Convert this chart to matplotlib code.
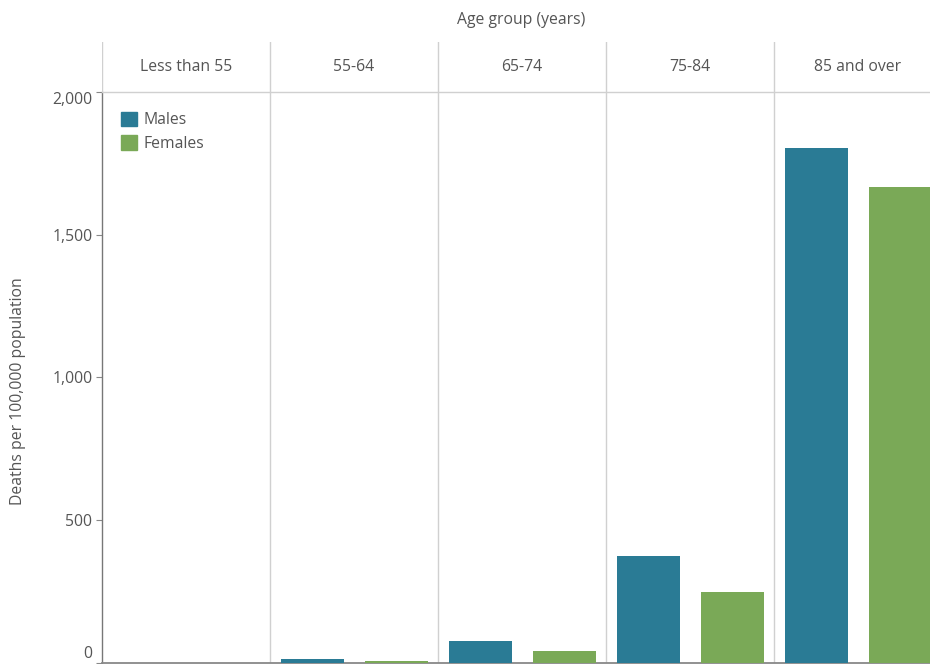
import matplotlib
matplotlib.use("Agg")
import matplotlib.pyplot as plt
from matplotlib.patches import Rectangle
from matplotlib.lines import Line2D
from matplotlib import transforms

plt.rcParams['font.family'] = ['Open Sans', 'DejaVu Sans']

age_groups = ["Less than 55", "55-64", "65-74", "75-84", "85 and over"]
males = [0, 14, 77, 372, 1804]
females = [0, 5, 39, 246, 1667]
yticks = [0, 500, 1000, 1500, 2000]
ytick_labels = ["0", "500", "1,000", "1,500", "2,000"]

male_color = "#2a7b95"
female_color = "#7aa957"
text_color = "#555555"
grid_color = "#d0d0d0"
fs = 11.3

W, H = 930, 664
fig = plt.figure(figsize=(W / 100, H / 100), dpi=100)

left, right = 102, 942
top, bottom = 92, 662.5
ax = fig.add_axes([left / W, 1 - bottom / H, (right - left) / W, (bottom - top) / H])

n = len(age_groups)
for i in range(n):
    ax.bar(2 * i + 0.5, males[i], width=0.75, color=male_color, zorder=3)
    ax.bar(2 * i + 1.5, females[i], width=0.75, color=female_color, zorder=3)

ax.set_xlim(0, 2 * n)
ax.set_ylim(0, 2000)
ax.set_xticks([])
ax.set_yticks(yticks)
ax.set_yticklabels(ytick_labels, color=text_color, fontsize=fs)
ax.tick_params(axis='y', length=4, width=0.8, color="#888888", pad=3)
labels = ax.get_yticklabels()
labels[0].set_verticalalignment('bottom')
labels[-1].set_verticalalignment('top')

for s in ['top', 'right']:
    ax.spines[s].set_visible(False)
ax.spines['left'].set_color("#777777")
ax.spines['left'].set_linewidth(1.0)
ax.spines['bottom'].set_color("#888888")
ax.spines['bottom'].set_linewidth(1.3)

for i in range(1, n):
    ax.axvline(2 * i, color=grid_color, lw=1.0, zorder=1)

# header area
hax = fig.add_axes([left / W, 1 - top / H, (right - left) / W, (top - 42) / H])
hax.set_xlim(0, 2 * n)
hax.set_ylim(0, 1)
hax.axis('off')
for i in range(n + 1):
    hax.axvline(2 * i, color=grid_color, lw=1.0)
for i, g in enumerate(age_groups):
    hax.text(2 * i + 1, 0.5, g, ha='center', va='center', fontsize=fs, color=text_color)

fig.add_artist(Line2D([left / W, 1], [1 - top / H, 1 - top / H], color=grid_color, lw=1.0,
                      transform=fig.transFigure))

fig.text(521 / W, 1 - 20 / H, "Age group (years)", ha='center', va='center',
         fontsize=fs, color=text_color)
fig.text(18 / W, 1 - 391 / H, "Deaths per 100,000 population", ha='center', va='center',
         rotation=90, fontsize=fs, color=text_color)

handles = [Rectangle((0, 0), 1, 1, color=male_color), Rectangle((0, 0), 1, 1, color=female_color)]
leg = ax.legend(handles, ["Males", "Females"], loc='upper left',
                bbox_to_anchor=((121 - left) / (right - left), 1 - (112 - top) / (bottom - top)),
                frameon=False, fontsize=fs, handlelength=1.0, handleheight=1.0,
                handletextpad=0.45, labelspacing=0.45, borderaxespad=0, borderpad=0)
for t in leg.get_texts():
    t.set_color(text_color)

fig.savefig("out.png", dpi=100)
